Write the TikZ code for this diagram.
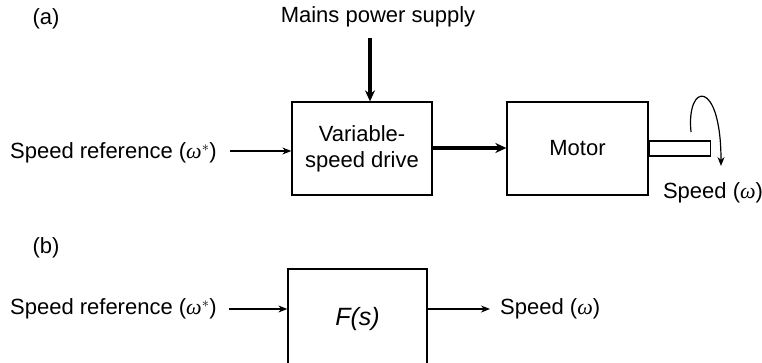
\documentclass[tikz,border=0pt]{standalone}
\usepackage{fontspec}
\setmainfont{Liberation Sans}
\newfontfamily\omfont{Liberation Serif}
\newcommand{\om}{{\omfont\itshape ω}}
\usetikzlibrary{arrows.meta}
\begin{document}
\begin{tikzpicture}[x=1pt,y=-1pt,
  every node/.style={font=\fontsize{22}{26}\selectfont, inner sep=0pt},
  blk/.style={draw, line width=1.3pt, minimum width=#1, inner sep=0pt},
  thin/.style={line width=1.2pt, -{Stealth[length=9pt,width=7pt]}},
  thick/.style={line width=3.5pt, -{Stealth[length=11pt,width=10pt]}}]
\useasboundingbox (0,0) rectangle (762,362);
% (a)
\node (la) at (46,19) {(a)};
\node[blk=140pt, minimum height=93pt, align=center] (vsd) at (362,148.5) {Variable-\\speed drive};
\node[blk=141pt, minimum height=93pt] (motor) at (577.5,148.5) {Motor};
\node[draw, line width=1.3pt, minimum width=61pt, minimum height=15pt, anchor=west] (shaft) at (motor.east |- 0,148.5) {};
\node (mains) at (378,17) {Mains power supply};
\coordinate (mtop) at (370,38);
\draw[thick] (mtop) -- (mtop |- vsd.north);
\draw[thick] (vsd.east |- 0,148) -- (motor.west |- 0,148);
\node[anchor=east] (refa) at (217,153) {Speed reference (\om$^{*}$)};
\coordinate (refaend) at (230,151);
\draw[thin] (refaend) -- (refaend -| vsd.west);
\coordinate (arcs) at (691,132);
\coordinate (arce) at (721,166);
\draw[thin] (arcs) .. controls (686,82) and (721,78) .. (arce);
\node (spa) at (713,193) {Speed (\om)};
% (b)
\node (lb) at (46,248) {(b)};
\node[draw, line width=1.3pt, minimum width=139pt, minimum height=100pt] (fs) at (357.5,319) {\fontsize{25}{30}\selectfont\itshape F(s)};
\node[anchor=east] (refb) at (217,309) {Speed reference (\om$^{*}$)};
\coordinate (refbend) at (229,309);
\draw[thin] (refbend) -- (refbend -| fs.west);
\node[anchor=west] (spb) at (500,309) {Speed (\om)};
\draw[thin] (fs.east |- 0,309) -- (490,309);
\end{tikzpicture}
\end{document}
